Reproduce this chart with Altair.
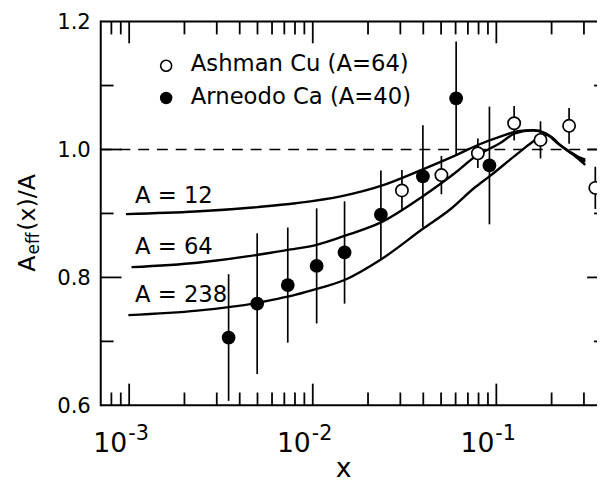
import math
import altair as alt
import pandas as pd

# ---------------- data ----------------
ca_x = [0.00348, 0.00498, 0.00731, 0.0105, 0.0149, 0.0235, 0.0398, 0.0604, 0.0917]
ca_y = [0.706, 0.759, 0.788, 0.818, 0.839, 0.898, 0.958, 1.080, 0.975]
ca_err = [0.099, 0.110, 0.090, 0.090, 0.080, 0.069, 0.080, 0.089, 0.092]

cu_x = [0.0306, 0.0502, 0.0793, 0.125, 0.174, 0.249, 0.346]
cu_y = [0.936, 0.960, 0.994, 1.041, 1.015, 1.037, 0.940]
cu_err = [0.032, 0.030, 0.023, 0.027, 0.029, 0.028, 0.033]

a12_x = [0.00096, 0.0023, 0.005, 0.0081, 0.0144, 0.0235, 0.0398, 0.0612, 0.0794,
         0.105, 0.134, 0.158, 0.186, 0.22, 0.26, 0.305]
a12_y = [0.899, 0.903, 0.910, 0.916, 0.927, 0.943, 0.969, 0.992, 1.007,
         1.020, 1.029, 1.030, 1.025, 1.008, 0.994, 0.981]

a64_x = [0.00103, 0.00235, 0.00494, 0.0063, 0.0081, 0.0105, 0.0149, 0.0235, 0.0398,
         0.0612, 0.0752, 0.105, 0.126, 0.158, 0.186, 0.22, 0.26, 0.305]
a64_y = [0.816, 0.823, 0.835, 0.840, 0.845, 0.851, 0.865, 0.886, 0.927,
         0.966, 0.987, 1.010, 1.025, 1.030, 1.025, 1.008, 0.993, 0.984]

a238_x = [0.00099, 0.00235, 0.00494, 0.0063, 0.0081, 0.0105, 0.0149, 0.0235, 0.0398,
          0.0564, 0.0752, 0.0917, 0.1285, 0.145, 0.158, 0.172, 0.186, 0.205, 0.22,
          0.26, 0.305]
a238_y = [0.741, 0.748, 0.760, 0.766, 0.773, 0.782, 0.796, 0.828, 0.876,
          0.907, 0.939, 0.958, 0.992, 1.004, 1.012, 1.020, 1.023, 1.017, 1.008,
          0.993, 0.976]

curve_names = ["A = 12", "A = 64", "A = 238"]
curve_label_x = [1.075e-3, 1.075e-3, 1.075e-3]
curve_label_y = [0.917, 0.837, 0.762]

legend_names = ["Ashman Cu (A=64)", "Arneodo Ca (A=40)"]

ref_line = [1.0]

x_major = [0.001, 0.01, 0.1]
x_base = ["10", "10", "10"]
x_exp = ["-3", "-2", "-1"]
x_minor = [8e-4, 9e-4, 2e-3, 3e-3, 4e-3, 5e-3, 6e-3, 7e-3, 8e-3, 9e-3,
           2e-2, 3e-2, 4e-2, 5e-2, 6e-2, 7e-2, 8e-2, 9e-2, 0.2, 0.3]
y_major = [0.8, 1.0]
y_minor = [0.7, 0.9, 1.1]
y_label_vals = [0.6, 0.8, 1.0, 1.2]
y_label_txt = ["0.6", "0.8", "1.0", "1.2"]

# ---------------- layout / style ----------------
W, H = 503, 389
XMIN, XMAX = 7e-4, 0.3534
YMIN, YMAX = 0.6, 1.2
FONT = "DejaVu Sans"
INK = "#000000"
PX_PER_DEC = W / math.log10(XMAX / XMIN)
PX_PER_Y = H / (YMAX - YMIN)

xs = alt.Scale(type="log", domain=[XMIN, XMAX], nice=False)
ys = alt.Scale(domain=[YMIN, YMAX], nice=False, zero=False)


def X(f="x"):
    return alt.X(f"{f}:Q", scale=xs, axis=None)


def Y(f="y"):
    return alt.Y(f"{f}:Q", scale=ys, axis=None)


one = pd.DataFrame({"k": [0]})

ca = pd.DataFrame({"x": ca_x, "y": ca_y,
                   "lo": [v - e for v, e in zip(ca_y, ca_err)],
                   "hi": [v + e for v, e in zip(ca_y, ca_err)]})
cu = pd.DataFrame({"x": cu_x, "y": cu_y,
                   "lo": [v - e for v, e in zip(cu_y, cu_err)],
                   "hi": [v + e for v, e in zip(cu_y, cu_err)]})

curves = pd.concat([
    pd.DataFrame({"x": a12_x, "y": a12_y, "c": curve_names[0]}),
    pd.DataFrame({"x": a64_x, "y": a64_y, "c": curve_names[1]}),
    pd.DataFrame({"x": a238_x, "y": a238_y, "c": curve_names[2]}),
])

# vertical inward tick segments (bottom and top); pixel lengths -> data units
xt_x, xt_lo, xt_hi = [], [], []
for vals, ln in ((x_major, 22), (x_minor, 13)):
    for v in vals:
        xt_x += [v, v]
        xt_lo += [YMIN, YMAX - ln / PX_PER_Y]
        xt_hi += [YMIN + ln / PX_PER_Y, YMAX]
xticks = pd.DataFrame({"x": xt_x, "lo": xt_lo, "hi": xt_hi})

# horizontal inward tick segments (left and the visible part of the right)
yt_y, yt_lo, yt_hi = [], [], []
for vals, ln, rln in ((y_major, 21, 10), (y_minor, 13, 3)):
    for v in vals:
        yt_y += [v, v]
        yt_lo += [XMIN, XMAX / 10 ** (rln / PX_PER_DEC)]
        yt_hi += [XMIN * 10 ** (ln / PX_PER_DEC), XMAX]
yticks = pd.DataFrame({"y": yt_y, "lo": yt_lo, "hi": yt_hi})

layers = []

# dashed reference line
layers.append(alt.Chart(pd.DataFrame({"y": ref_line})).mark_rule(
    color=INK, strokeWidth=1.7, strokeDash=[11, 8]).encode(
    y=Y(), x=alt.value(0), x2=alt.value(W)))

# model curves
layers.append(alt.Chart(curves).mark_line(
    color=INK, strokeWidth=2.4, interpolate="monotone", clip=True).encode(
    x=X(), y=Y(), detail="c:N"))

# error bars
for df in (ca, cu):
    layers.append(alt.Chart(df).mark_rule(color=INK, strokeWidth=1.7).encode(
        x=X(), y=Y("lo"), y2="hi:Q"))

# inward ticks
layers.append(alt.Chart(xticks).mark_rule(color=INK, strokeWidth=1.8).encode(
    x=X(), y=Y("lo"), y2="hi:Q"))
layers.append(alt.Chart(yticks).mark_rule(color=INK, strokeWidth=1.8).encode(
    y=Y(), x=X("lo"), x2="hi:Q"))

# points
layers.append(alt.Chart(ca).mark_point(
    shape="circle", filled=True, color=INK, size=195, opacity=1).encode(x=X(), y=Y()))
layers.append(alt.Chart(cu).mark_point(
    shape="circle", filled=True, fill="white", stroke=INK, strokeWidth=1.7,
    size=155, opacity=1).encode(x=X(), y=Y()))

# curve labels
layers.append(alt.Chart(pd.DataFrame({"x": curve_label_x, "y": curve_label_y, "t": curve_names}))
              .mark_text(font=FONT, fontSize=23, align="left", baseline="alphabetic", color=INK)
              .encode(x=X(), y=Y(), text="t:N"))

# legend
leg_open = pd.DataFrame({"t": [legend_names[0]]})
leg_fill = pd.DataFrame({"t": [legend_names[1]]})
layers.append(alt.Chart(leg_open).mark_point(
    shape="circle", filled=True, fill="white", stroke=INK, strokeWidth=1.6, size=125, opacity=1)
    .encode(x=alt.value(66.3), y=alt.value(44.8)))
layers.append(alt.Chart(leg_fill).mark_point(
    shape="circle", filled=True, color=INK, size=160, opacity=1)
    .encode(x=alt.value(66.3), y=alt.value(77.5)))
layers.append(alt.Chart(leg_open).mark_text(
    font=FONT, fontSize=23, align="left", baseline="alphabetic", color=INK)
    .encode(x=alt.value(91.3), y=alt.value(49.8), text="t:N"))
layers.append(alt.Chart(leg_fill).mark_text(
    font=FONT, fontSize=23, align="left", baseline="alphabetic", color=INK)
    .encode(x=alt.value(91.3), y=alt.value(83.2), text="t:N"))

# frame
layers.append(alt.Chart(one).mark_rule(color=INK, strokeWidth=2).encode(
    x=alt.value(0), y=alt.value(-1), y2=alt.value(H + 1)))
layers.append(alt.Chart(one).mark_rule(color=INK, strokeWidth=2).encode(
    x=alt.value(0), x2=alt.value(W), y=alt.value(H)))
layers.append(alt.Chart(one).mark_rule(color=INK, strokeWidth=2).encode(
    x=alt.value(0), x2=alt.value(W), y=alt.value(0)))

# y tick labels
layers.append(alt.Chart(pd.DataFrame({"y": y_label_vals, "t": y_label_txt})).mark_text(
    font=FONT, fontSize=21.5, align="right", baseline="alphabetic", dy=7.8, color=INK)
    .encode(y=Y(), x=alt.value(-10), text="t:N"))

# x tick labels 10^n
xl = pd.DataFrame({"x": x_major, "b": x_base, "e": x_exp})
layers.append(alt.Chart(xl).mark_text(
    font=FONT, fontSize=27, align="right", baseline="alphabetic", dx=-2, color=INK)
    .encode(x=X(), y=alt.value(436.5), text="b:N"))
layers.append(alt.Chart(xl).mark_text(
    font=FONT, fontSize=21, align="left", baseline="alphabetic", dx=-1, color=INK)
    .encode(x=X(), y=alt.value(424.0), text="e:N"))

# x title
layers.append(alt.Chart(pd.DataFrame({"t": ["x"]})).mark_text(
    font=FONT, fontSize=27, align="center", baseline="alphabetic", color=INK)
    .encode(x=alt.value(246.2), y=alt.value(462), text="t:N"))

# y title A_eff(x)/A (rotated)
title_parts = ["A", "eff", "(x)/A"]
layers.append(alt.Chart(pd.DataFrame({"t": [title_parts[0]]})).mark_text(
    font=FONT, fontSize=24, angle=270, align="left", baseline="alphabetic", color=INK)
    .encode(x=alt.value(-67), y=alt.value(253.5), text="t:N"))
layers.append(alt.Chart(pd.DataFrame({"t": [title_parts[1]]})).mark_text(
    font=FONT, fontSize=17, angle=270, align="left", baseline="alphabetic", color=INK)
    .encode(x=alt.value(-63), y=alt.value(236.0), text="t:N"))
layers.append(alt.Chart(pd.DataFrame({"t": [title_parts[2]]})).mark_text(
    font=FONT, fontSize=24, angle=270, align="left", baseline="alphabetic", color=INK)
    .encode(x=alt.value(-67), y=alt.value(212.0), text="t:N"))

chart = alt.layer(*layers).properties(
    width=W, height=H,
    padding={"left": 94, "top": 10.5, "right": 0, "bottom": 78.5},
    autosize=alt.AutoSizeParams(type="none"),
    background="white",
).configure_view(stroke=None)

chart.save("out.html", embed_options={"renderer": "svg", "actions": False})
